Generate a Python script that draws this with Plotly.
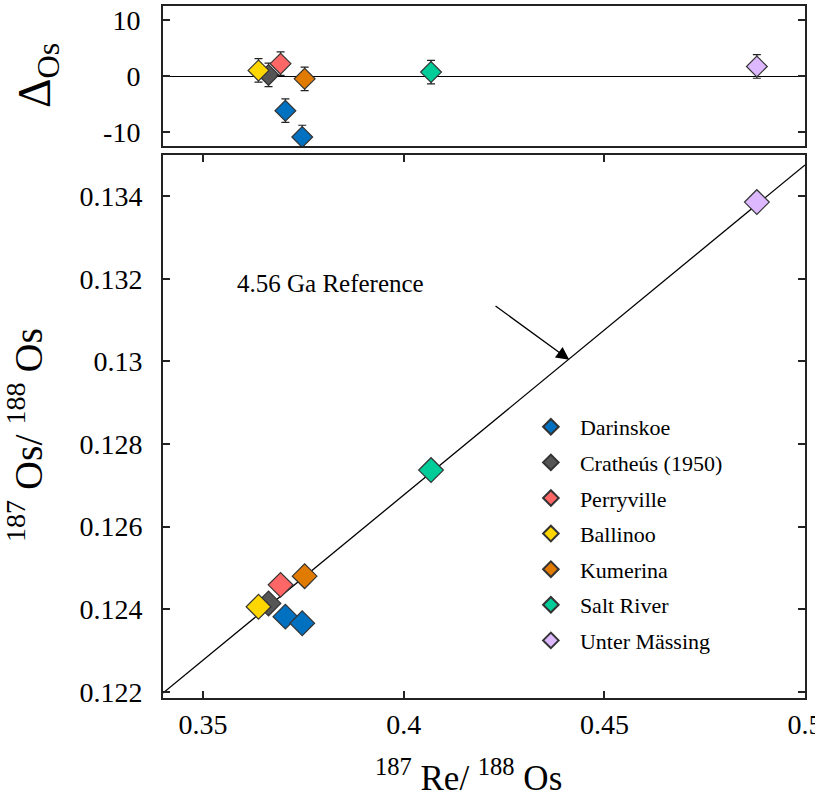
import plotly.graph_objects as go

# ---------------- data ----------------
names = ["Darinskoe", "Cratheús (1950)", "Perryville", "Ballinoo",
         "Kumerina", "Salt River", "Unter Mässing"]
colors = ["#0070C0", "#555555", "#FF6666", "#FFD700",
          "#E07B00", "#00CC99", "#DDB8FF"]
re_os = [[0.3705, 0.3747], [0.3663], [0.3693], [0.3638],
         [0.3753], [0.4068], [0.4880]]
os_os = [[0.12382, 0.12366], [0.12414], [0.12459], [0.12406],
         [0.12480], [0.12737], [0.13386]]
delta_os = [[-6.2, -10.9], [0.2], [2.2], [1.0], [-0.5], [0.7], [1.7]]
delta_err = [[2.1, 2.1], [2.1], [2.1], [2.1], [2.1], [2.1], [2.1]]

ref_x = [0.34, 0.50]
ref_y = [0.12197, 0.13476]

x_ticks = [0.35, 0.40, 0.45, 0.50]
x_ticktext = ["0.35", "0.4", "0.45", "0.5"]
y_ticks = [0.122, 0.124, 0.126, 0.128, 0.130, 0.132, 0.134]
y_ticktext = ["0.122", "0.124", "0.126", "0.128", "0.13", "0.132", "0.134"]
d_ticks = [-10, 0, 10]
d_ticktext = ["-10", "0", "10"]

FONT = "Liberation Serif"
AXC = "#222222"

fig = go.Figure()

# reference isochron
fig.add_trace(go.Scatter(x=ref_x, y=ref_y, mode="lines",
                         line=dict(color="black", width=1.3),
                         showlegend=False, hoverinfo="skip",
                         xaxis="x", yaxis="y"))

for i, n in enumerate(names):
    fig.add_trace(go.Scatter(
        x=re_os[i], y=os_os[i], mode="markers", name=n,
        legendgroup=n,
        marker=dict(symbol="diamond", size=19, color=colors[i],
                    line=dict(color="#333333", width=1.2)),
        xaxis="x", yaxis="y"))
    fig.add_trace(go.Scatter(
        x=re_os[i], y=delta_os[i], mode="markers", name=n,
        legendgroup=n, showlegend=False,
        error_y=dict(type="data", array=delta_err[i], color="#222222",
                     thickness=1.2, width=4),
        marker=dict(symbol="diamond", size=16, color=colors[i],
                    line=dict(color="#333333", width=1.2)),
        xaxis="x2", yaxis="y2"))

axis_common = dict(showline=True, linecolor=AXC, linewidth=2,
                   showgrid=False, ticks="inside", ticklen=7,
                   tickwidth=1.5, tickcolor=AXC, ticklabeloverflow="allow",
                   automargin=False,
                   tickfont=dict(family=FONT, size=28, color="black"))

fig.update_layout(
    width=815, height=793,
    margin=dict(l=163, r=10, t=6, b=95),
    paper_bgcolor="white", plot_bgcolor="white",
    font=dict(family=FONT, color="black"),
    xaxis=dict(domain=[0, 1], range=[0.34, 0.50], anchor="y",
               tickvals=x_ticks, ticktext=x_ticktext, mirror="ticks",
               zeroline=False, ticklabelstandoff=0, **axis_common),
    yaxis=dict(domain=[0, 0.7847], range=[0.12185, 0.135], anchor="x",
               tickvals=y_ticks, ticktext=y_ticktext, mirror="ticks",
               zeroline=False, ticklabelstandoff=13, **axis_common),
    xaxis2=dict(domain=[0, 1], range=[0.34, 0.50], anchor="y2",
                showticklabels=False, showline=True, linecolor=AXC,
                linewidth=2, mirror=True, showgrid=False, zeroline=False,
                ticks="", automargin=False),
    yaxis2=dict(domain=[0.7977, 1], range=[-12.5, 12.5], anchor="x2",
                tickvals=d_ticks, ticktext=d_ticktext, mirror="ticks",
                zeroline=True, zerolinecolor="black", zerolinewidth=1.3,
                ticklabelstandoff=15, **axis_common),
    legend=dict(x=0.559, y=0.422, xanchor="left", yanchor="top",
                font=dict(family=FONT, size=22, color="black"),
                itemsizing="constant", tracegroupgap=4,
                bgcolor="rgba(0,0,0,0)", itemwidth=48),
    showlegend=True,
)

fig.add_annotation(text="<sup>187</sup> Re/ <sup>188</sup> Os",
                   xref="paper", yref="paper", x=0.476, y=-0.112,
                   xanchor="center", yanchor="middle", showarrow=False,
                   font=dict(family=FONT, size=35, color="black"))
fig.add_annotation(text="<sup>187</sup> Os/ <sup>188</sup> Os",
                   xref="paper", yref="paper", x=-0.215, y=0.380,
                   xanchor="center", yanchor="middle", showarrow=False,
                   textangle=-90,
                   font=dict(family=FONT, size=40, color="black"))
fig.add_annotation(text="Δ<sub>Os</sub>",
                   xref="paper", yref="paper", x=-0.195, y=0.900,
                   xanchor="center", yanchor="middle", showarrow=False,
                   textangle=-90,
                   font=dict(family=FONT, size=46, color="black"))
fig.add_annotation(text="4.56 Ga Reference", xref="x", yref="y",
                   x=0.358, y=0.13188, xanchor="left", yanchor="middle",
                   showarrow=False,
                   font=dict(family=FONT, size=25, color="black"))
fig.add_annotation(text="", xref="x", yref="y", x=0.44125, y=0.13004,
                   axref="x", ayref="y", ax=0.4225, ay=0.13137,
                   showarrow=True, arrowhead=2, arrowsize=2,
                   arrowwidth=1.3, arrowcolor="black")

fig.write_html("out.html", config={"displayModeBar": False},
               post_script="document.body.style.margin='0';"
                           "document.body.style.overflow='hidden';")
